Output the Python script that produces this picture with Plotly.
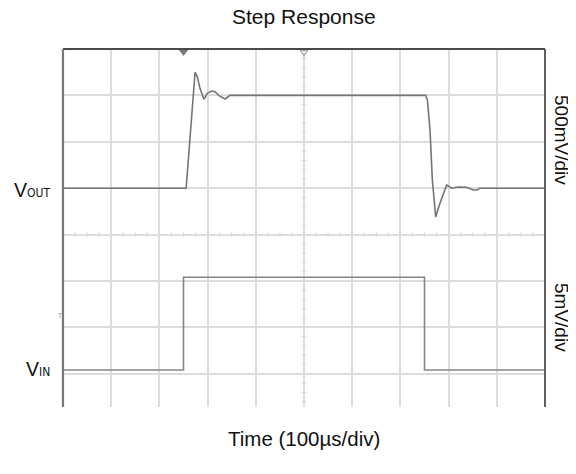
import plotly.graph_objects as go

# ---------------- data ----------------
# time axis in microseconds (100 us/div, 10 divisions)
vout_time_us = [0, 255.5, 274, 278.7, 284.2, 292.5, 299.4, 308.5, 315.4, 324.3, 336.1, 341.6, 346.5,
                752.5, 756, 761.4, 766.3, 773.2, 782.2, 796, 806.4, 820, 837.5, 851.3, 859.6, 864, 1000]
vout_volts = [0, 0, 1.25, 1.20, 1.076, 0.958, 1.022, 1.047, 1.04, 0.994, 0.961, 0.986, 1.0,
              1.0, 0.95, 0.63, 0.09, -0.31, -0.16, 0.034, 0.0, 0.013, 0.01, -0.02, -0.02, 0.0, 0.0]

vin_time_us = [0, 250, 250, 750, 750, 1000]
vin_mv = [0, 0, 10, 10, 0, 0]

# scope settings
time_per_div_us = 100
vout_per_div_v = 0.5
vin_per_div_mv = 5
trigger_time_us = 250
center_time_us = 500

# geometry (page body has an 8px margin, so the figure is 8px smaller)
OFF = 8
W, H = 576 - OFF, 474 - OFF
L, R, T, B = 63 - OFF, 31, 49 - OFF, 67
plot_w = W - L - R
plot_h = H - T - B
div_px_y = 46.4
n_div_visible = plot_h / div_px_y

# vertical axis ranges (in each channel's units)
vout_top = 3 * vout_per_div_v
vout_bottom = vout_top - n_div_visible * vout_per_div_v
vin_zero_div_from_top = 6.918
vin_top = vin_zero_div_from_top * vin_per_div_mv
vin_bottom = vin_top - n_div_visible * vin_per_div_mv

FONT = "Liberation Sans, Arial, sans-serif"
GRID = "#dcdcdc"

fig = go.Figure()

fig.add_trace(go.Scatter(x=vin_time_us, y=vin_mv, mode="lines", yaxis="y2",
                         line=dict(color="#858585", width=1.6), hoverinfo="skip", showlegend=False))
fig.add_trace(go.Scatter(x=vout_time_us, y=vout_volts, mode="lines", yaxis="y",
                         line=dict(color="#747474", width=1.6), hoverinfo="skip", showlegend=False))

# top markers: trigger position (filled) and center (hollow)
top_marker_v = vout_top - 3 * vout_per_div_v / div_px_y
fig.add_trace(go.Scatter(x=[trigger_time_us], y=[top_marker_v], mode="markers", cliponaxis=False,
                         marker=dict(symbol="triangle-down", size=8, color="#7a7a7a"),
                         hoverinfo="skip", showlegend=False))
fig.add_trace(go.Scatter(x=[center_time_us], y=[top_marker_v], mode="markers", cliponaxis=False,
                         marker=dict(symbol="triangle-down-open", size=7, color="#8a8a8a", line=dict(width=1)),
                         hoverinfo="skip", showlegend=False))
# left channel markers
fig.add_trace(go.Scatter(x=[-1.5], y=[0.5], mode="markers", cliponaxis=False,
                         marker=dict(symbol="triangle-right", size=8, color="#8a8a8a"),
                         hoverinfo="skip", showlegend=False))
fig.add_trace(go.Scatter(x=[-1.5], y=[4.5], mode="markers", cliponaxis=False, yaxis="y2",
                         marker=dict(symbol="triangle-right", size=5, color="#8a8a8a"),
                         hoverinfo="skip", showlegend=False))

shapes = []
# center cross minor ticks
h_center_v = vout_top - 4 * vout_per_div_v
tick_half_v = 2.2 * vout_per_div_v / div_px_y
tick_half_t = 2.2 * time_per_div_us / (plot_w / 10)
for k in range(1, 40):
    if k % 4 == 0:
        continue
    t = k * time_per_div_us / 4
    shapes.append(dict(type="line", xref="x", yref="y", x0=t, x1=t,
                       y0=h_center_v - tick_half_v, y1=h_center_v + tick_half_v,
                       line=dict(color="#cfcfcf", width=1), layer="below"))
k = 1
while True:
    v = vout_top - k * vout_per_div_v / 5
    if v < vout_bottom:
        break
    if k % 5 != 0:
        shapes.append(dict(type="line", xref="x", yref="y", x0=center_time_us - tick_half_t,
                           x1=center_time_us + tick_half_t, y0=v, y1=v,
                           line=dict(color="#cfcfcf", width=1), layer="below"))
    k += 1

# frame (top, left, right; bottom is open)
shapes += [
    dict(type="line", xref="paper", yref="paper", x0=0, x1=1, y0=1, y1=1, line=dict(color="#4a4a4a", width=2)),
    dict(type="line", xref="paper", yref="paper", x0=0, x1=0, y0=0, y1=1, line=dict(color="#777777", width=2.2)),
    dict(type="line", xref="paper", yref="paper", x0=1, x1=1, y0=0, y1=1, line=dict(color="#606060", width=2)),
]


def px_x(px):
    return (px - 63) / plot_w


def px_y(py):
    return (407 - py) / plot_h


SUB = ("<span style='font-size:12px;font-family:Liberation Sans Narrow, DejaVu Sans Condensed, "
       "Liberation Sans'>{}</span>")
annotations = [
    dict(text="Step Response", x=px_x(304), y=px_y(16), xref="paper", yref="paper",
         showarrow=False, xanchor="center", yanchor="middle", font=dict(size=21, color="#111")),
    dict(text="Time (100µs/div)", x=px_x(304), y=px_y(439), xref="paper", yref="paper",
         showarrow=False, xanchor="center", yanchor="middle", font=dict(size=20.5, color="#111")),
    dict(text="V" + SUB.format("OUT"), x=px_x(52), y=px_y(190), xref="paper", yref="paper",
         showarrow=False, xanchor="right", yanchor="middle", font=dict(size=19.5, color="#111")),
    dict(text="V" + SUB.format("IN"), x=px_x(52), y=px_y(369), xref="paper", yref="paper",
         showarrow=False, xanchor="right", yanchor="middle", font=dict(size=19.5, color="#111")),
    dict(text="500mV/div", x=px_x(562), y=px_y(140), xref="paper", yref="paper", textangle=90,
         showarrow=False, xanchor="center", yanchor="middle", font=dict(size=19, color="#111")),
    dict(text="5mV/div", x=px_x(562), y=px_y(317), xref="paper", yref="paper", textangle=90,
         showarrow=False, xanchor="center", yanchor="middle", font=dict(size=19, color="#111")),
    dict(text="T", x=px_x(60), y=px_y(315), xref="paper", yref="paper",
         showarrow=False, xanchor="center", yanchor="middle", font=dict(size=7, color="#999")),
]

fig.update_layout(
    width=W, height=H,
    margin=dict(l=L, r=R, t=T, b=B, pad=0),
    paper_bgcolor="white", plot_bgcolor="white",
    font=dict(family=FONT),
    showlegend=False,
    xaxis=dict(range=[0, 1000], dtick=time_per_div_us, tick0=0, showgrid=True, gridcolor=GRID, gridwidth=1.5,
               zeroline=False, showticklabels=False, ticks="", showline=False, fixedrange=True),
    yaxis=dict(range=[vout_bottom, vout_top], dtick=vout_per_div_v, tick0=0, showgrid=True, gridcolor=GRID,
               gridwidth=1.5, zeroline=False, showticklabels=False, ticks="", showline=False, fixedrange=True),
    yaxis2=dict(range=[vin_bottom, vin_top], overlaying="y", showgrid=False, zeroline=False,
                showticklabels=False, ticks="", showline=False, fixedrange=True),
    shapes=shapes,
    annotations=annotations,
)

fig.write_html("out.html")
